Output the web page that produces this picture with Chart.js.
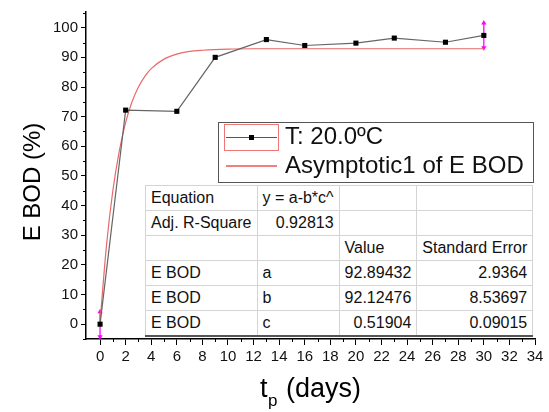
<!DOCTYPE html>
<html>
<head>
<meta charset="utf-8">
<script src="https://cdn.jsdelivr.net/npm/chart.js@4/dist/chart.umd.min.js"></script>
<style>
    body { margin: 0; background: #fff; }
    #wrap { position: relative; width: 549px; height: 412px; }
    #fitTable {
        position: absolute; left: 145px; top: 185px; width: 388px; height: 150px;
        border-collapse: collapse; font-family: "Liberation Sans", Arial, sans-serif;
        font-size: 16px; color: #111; background: #fff;
        border: 1px solid #999; border-bottom: 2px solid #555;
    }
    #fitTable td { border: 1px solid #d4d4d4; padding: 0 5px; height: 24px; white-space: nowrap; }
    #fitTable td.num { text-align: right; }
</style>
</head>
<body>
<div id="wrap">
    <canvas id="chart" width="549" height="412"></canvas>
    <table id="fitTable"></table>
</div>
<script>
// Data
const days = [0, 2, 6, 9, 13, 16, 20, 23, 27, 30];
const eBod = [0, 72.2, 71.8, 90.0, 96.0, 94.0, 94.8, 96.5, 95.1, 97.4];

// fitted curve (Asymptotic1)
const fitDays = [0, 0.5, 1, 1.5, 2, 2.5, 3, 3.5, 4, 5, 6, 7, 8, 10, 12, 16, 20, 25, 30];
const fitBod = [0.8, 26.5, 45.1, 58.4, 68.1, 75.0, 80.0, 83.6, 86.2, 89.4, 91.1, 92.0, 92.4, 92.8, 92.9, 92.9, 92.9, 92.9, 92.9];

// magenta arrows
const arrowDays = [0, 30];
const arrowHalf = [4.2, 4.2];

const xTicks = [0, 2, 4, 6, 8, 10, 12, 14, 16, 18, 20, 22, 24, 26, 28, 30, 32, 34];
const yTicks = [0, 10, 20, 30, 40, 50, 60, 70, 80, 90, 100];

const legendLabels = ["T: 20.0ºC", "Asymptotic1 of E BOD"];
const tableRows = [
    ["Equation", "y = a-b*c^", "", ""],
    ["Adj. R-Square", "0.92813", "", ""],
    ["", "", "Value", "Standard Error"],
    ["E BOD", "a", "92.89432", "2.9364"],
    ["E BOD", "b", "92.12476", "8.53697"],
    ["E BOD", "c", "0.51904", "0.09015"]
];

const FONT = '"Liberation Sans", Arial, sans-serif';

// Tabell
const table = document.getElementById("fitTable");
tableRows.forEach((row, r) => {
    const tr = document.createElement("tr");
    row.forEach((cell, c) => {
        const td = document.createElement("td");
        td.textContent = cell;
        if ((r === 1 && c === 1) || (r >= 3 && c >= 2)) td.className = "num";
        tr.appendChild(td);
    });
    table.appendChild(tr);
});
const widths = [108, 87, 80, 113];
table.querySelectorAll("tr:first-child td").forEach((td, i) => td.style.width = widths[i] + "px");

const arrowSets = arrowDays.map((d, i) => {
    const yc = eBod[days.indexOf(d)];
    return {
        type: "line",
        data: [{ x: d, y: yc - arrowHalf[i] }, { x: d, y: yc + arrowHalf[i] }],
        borderColor: "#ff00ff",
        backgroundColor: "#ff00ff",
        borderWidth: 1.3,
        pointStyle: "triangle",
        pointRadius: 3,
        pointBorderWidth: 0,
        rotation: [180, 0],
        clip: false,
        order: 3
    };
});

// Minor ticks, titles and legend
const extras = {
    id: "extras",
    afterDraw(chart) {
        const ctx = chart.ctx;
        const x = chart.scales.x, y = chart.scales.y;
        const area = chart.chartArea;
        ctx.save();
        ctx.strokeStyle = "#000";
        ctx.lineWidth = 1;
        ctx.beginPath();
        for (let v = 1; v <= 33; v += 2) {
            const px = Math.round(x.getPixelForValue(v)) + 0.5;
            ctx.moveTo(px, area.bottom);
            ctx.lineTo(px, area.bottom + 3);
        }
        for (let v = -5; v <= 105; v += 10) {
            const py = Math.round(y.getPixelForValue(v)) + 0.5;
            ctx.moveTo(area.left, py);
            ctx.lineTo(area.left - 3, py);
        }
        ctx.stroke();

        // axis titles
        ctx.fillStyle = "#000";
        ctx.textBaseline = "alphabetic";
        ctx.font = "24px " + FONT;
        ctx.save();
        ctx.translate(40, 182);
        ctx.rotate(-Math.PI / 2);
        ctx.textAlign = "center";
        ctx.fillText("E BOD (%)", 0, 0);
        ctx.restore();

        ctx.textAlign = "left";
        ctx.font = "27px " + FONT;
        ctx.fillText("t", 260, 397);
        ctx.font = "17px " + FONT;
        ctx.fillText("p", 268, 406);
        ctx.font = "27px " + FONT;
        ctx.fillText("(days)", 286, 397);

        // legend
        ctx.fillStyle = "#fff";
        ctx.fillRect(218, 122, 315, 60);
        ctx.strokeStyle = "#555";
        ctx.strokeRect(218.5, 122.5, 315, 60);
        ctx.strokeStyle = "#e77";
        ctx.strokeRect(224.5, 124.5, 54, 26);
        ctx.strokeStyle = "#555";
        ctx.beginPath();
        ctx.moveTo(226, 137.5);
        ctx.lineTo(277, 137.5);
        ctx.stroke();
        ctx.fillStyle = "#000";
        ctx.fillRect(249, 135, 5, 5);
        ctx.strokeStyle = "#ee5555";
        ctx.lineWidth = 1.3;
        ctx.beginPath();
        ctx.moveTo(226, 166);
        ctx.lineTo(277, 166);
        ctx.stroke();
        ctx.fillStyle = "#111";
        ctx.font = "24px " + FONT;
        ctx.textBaseline = "middle";
        ctx.fillText(legendLabels[0], 285, 137);
        ctx.fillText(legendLabels[1], 285, 166);
        ctx.restore();
    }
};

new Chart(document.getElementById("chart"), {
    type: "line",
    data: {
        datasets: [
            {
                data: days.map((d, i) => ({ x: d, y: eBod[i] })),
                borderColor: "#666",
                borderWidth: 1.2,
                backgroundColor: "#000",
                pointStyle: "rect",
                pointRadius: 3.6,
                pointBorderWidth: 0,
                clip: false,
                order: 1
            },
            {
                data: fitDays.map((d, i) => ({ x: d, y: fitBod[i] })),
                borderColor: "#e86a6a",
                borderWidth: 1.2,
                pointRadius: 0,
                cubicInterpolationMode: "monotone",
                order: 2
            },
            ...arrowSets
        ]
    },
    options: {
        responsive: false,
        devicePixelRatio: 1,
        animation: false,
        layout: { padding: { top: 5, right: 14, left: 0, bottom: 0 } },
        plugins: { legend: { display: false }, tooltip: { enabled: false } },
        scales: {
            x: {
                type: "linear",
                min: -1.1,
                max: 34,
                afterBuildTicks: s => { s.ticks = xTicks.map(v => ({ value: v })); },
                afterFit: s => { s.height = 73; },
                grid: { drawOnChartArea: false, drawTicks: true, tickLength: 6, color: "#000" },
                border: { display: true, color: "#000", width: 1.5 },
                ticks: { color: "#111", padding: 3, maxRotation: 0, font: { family: FONT, size: 15 } }
            },
            y: {
                type: "linear",
                min: -5,
                max: 105.3,
                afterBuildTicks: s => { s.ticks = yTicks.map(v => ({ value: v })); },
                afterFit: s => { s.width = 86; },
                grid: { drawOnChartArea: false, drawTicks: true, tickLength: 5, color: "#000" },
                border: { display: true, color: "#000", width: 1.5 },
                ticks: { color: "#111", padding: 3, font: { family: FONT, size: 15 } }
            }
        }
    },
    plugins: [extras]
});
</script>
</body>
</html>
